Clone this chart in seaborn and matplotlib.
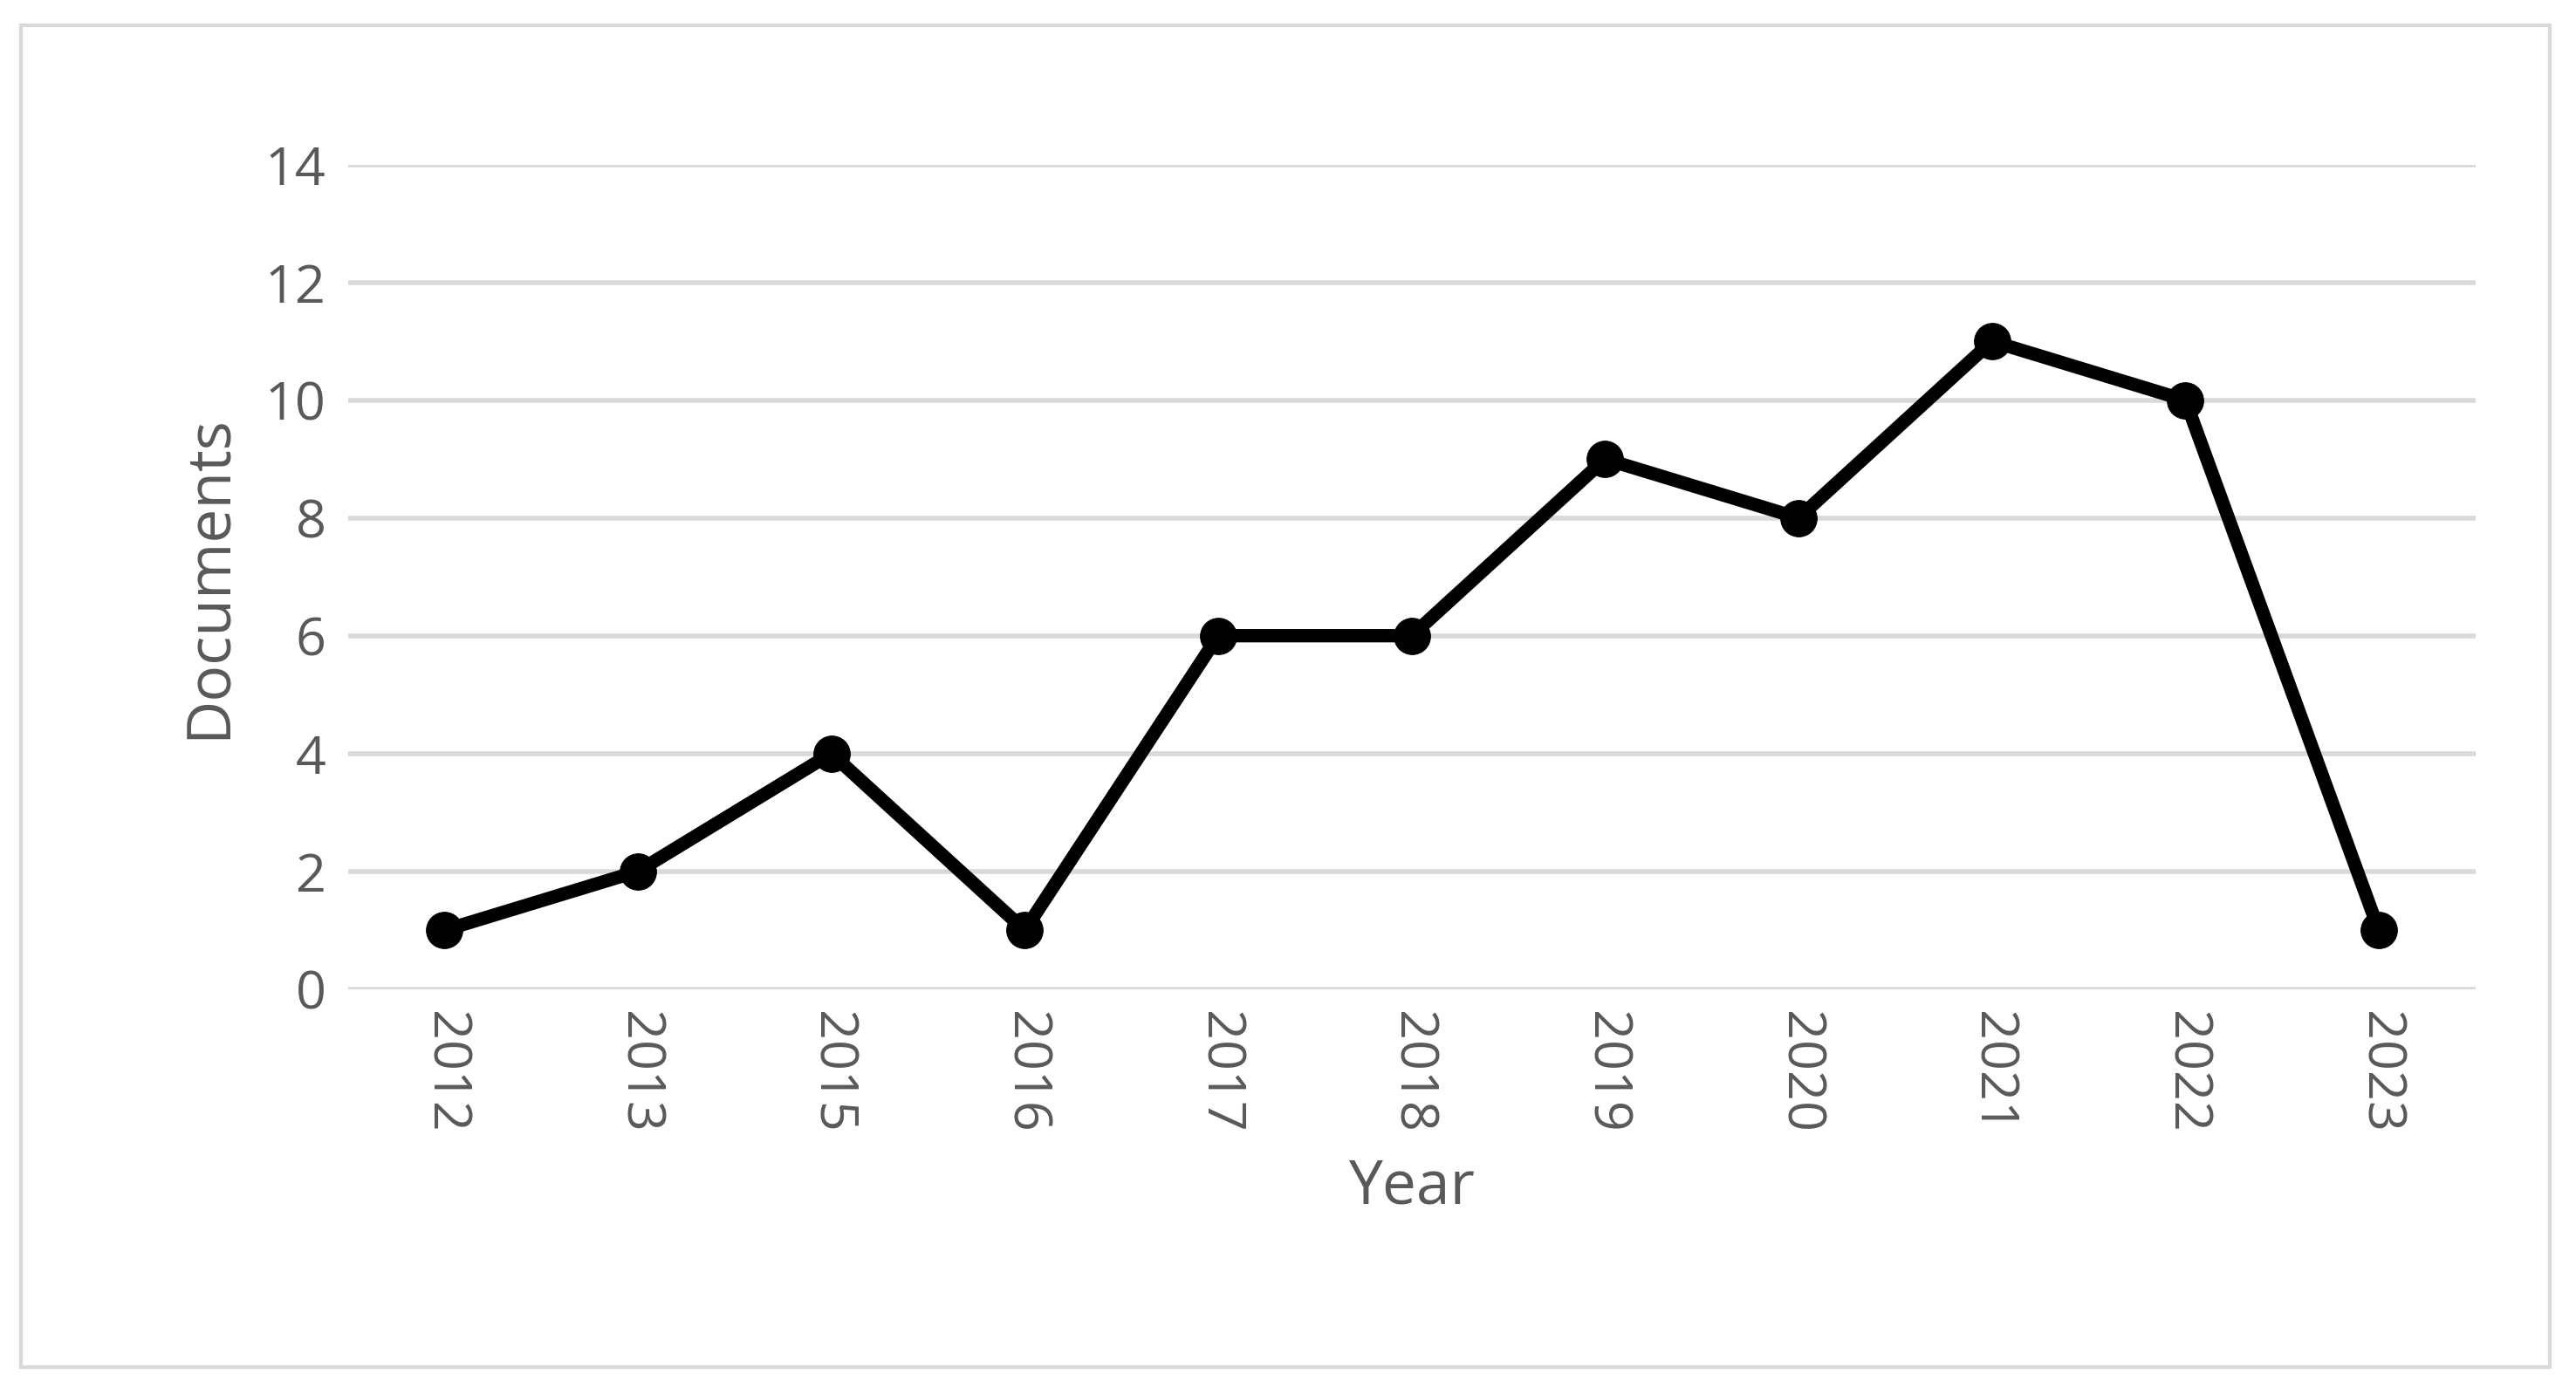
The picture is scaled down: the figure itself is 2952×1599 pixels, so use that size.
import matplotlib
matplotlib.use("Agg")
import matplotlib.pyplot as plt
import seaborn as sns
import pandas as pd
from matplotlib.patches import Rectangle

years = ["2012","2013","2015","2016","2017","2018","2019","2020","2021","2022","2023"]
documents = [1,2,4,1,6,6,9,8,11,10,1]
yticks = [0,2,4,6,8,10,12,14]

sns.set_theme(style="white")
plt.rcParams['font.family'] = ['Open Sans', 'DejaVu Sans']

df = pd.DataFrame({"Year": years, "Documents": documents})
fig = plt.figure(figsize=(29.52, 15.99), dpi=100)
ax = fig.add_axes([0.135, 0.291, 0.826, 0.591])
for y in yticks:
    ax.axhline(y, color="#d9d9d9", lw=4, zorder=0)
sns.lineplot(data=df, x="Year", y="Documents", ax=ax, color="black", lw=11,
             marker="o", markersize=30, markeredgecolor="black", sort=False)
ax.set_xlim(-0.5, len(years)-0.5)
ax.set_ylim(0, 14)
ax.set_yticks(yticks)
for s in ax.spines.values():
    s.set_visible(False)
ax.tick_params(axis='both', length=0, labelsize=44, labelcolor="#595959", pad=18)
plt.setp(ax.get_xticklabels(), rotation=-90)
ax.set_xlabel("Year", fontsize=50, color="#595959", labelpad=20)
ax.set_ylabel("Documents", fontsize=50, color="#595959", labelpad=20)
fig.patches.append(Rectangle((0.008, 0.02), 0.982, 0.962, transform=fig.transFigure,
                             fill=False, edgecolor="#d9d9d9", lw=3))
fig.savefig("out.png", dpi=100)
